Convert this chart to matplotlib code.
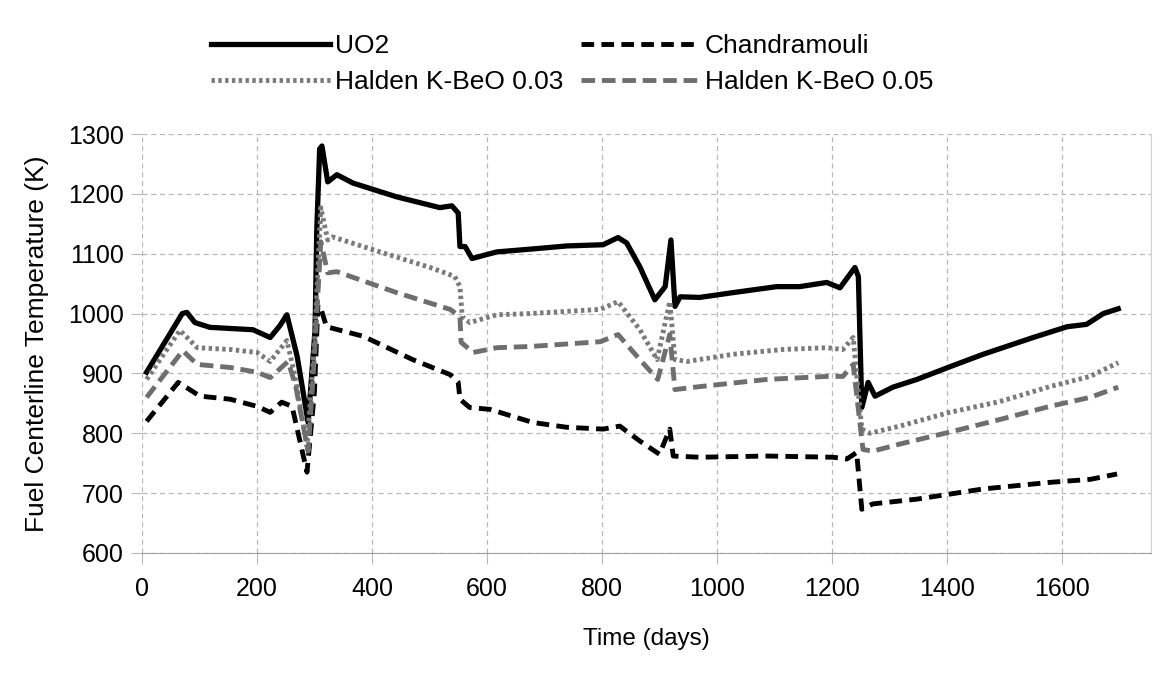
import matplotlib
matplotlib.use('Agg')
from matplotlib import pyplot as plt

plt.rcParams['font.family'] = ['Liberation Sans', 'DejaVu Sans']

# datos
dias_uo2 = [8, 70, 78, 92, 118, 193, 223, 240, 252, 270, 289, 301, 304, 309, 313, 323, 339, 367, 443, 518, 539, 550,
            553, 562, 574, 617, 680, 739, 802, 828, 843, 866, 892, 910, 920, 927, 936, 970, 1028, 1104,
            1144, 1191, 1214, 1240, 1246, 1252, 1263, 1275, 1306, 1348, 1402, 1463, 1550, 1609, 1643,
            1672, 1698]
temp_uo2 = [902, 1000, 1002, 985, 977, 973, 960, 980, 998, 928, 818, 973, 1140, 1275, 1280, 1220, 1232, 1218, 1195, 1177,
            1180, 1168, 1112, 1112, 1092, 1103, 1108, 1113, 1115, 1127, 1118, 1078, 1023, 1045, 1123, 1012,
            1028, 1027, 1035, 1045, 1045, 1052, 1043, 1077, 1062, 843, 885, 862, 877, 890, 910, 932, 960,
            978, 982, 1000, 1008]

dias_chandra = [8, 63, 83, 101, 153, 200, 223, 243, 261, 287, 300, 306, 310, 321, 385, 471, 536, 550, 553, 570,
                605, 680, 739, 802, 831, 866, 900, 918, 924, 970, 1087, 1202, 1226, 1243, 1252, 1271, 1348,
                1463, 1579, 1649, 1696]
temp_chandra = [820, 885, 873, 862, 857, 845, 835, 852, 845, 735, 870, 1015, 1012, 978, 962, 923, 898, 885, 857, 843,
                840, 818, 810, 807, 812, 787, 765, 807, 762, 760, 762, 760, 757, 768, 673, 682, 690, 707, 718,
                723, 732]

dias_h03 = [8, 66, 96, 153, 200, 223, 252, 265, 287, 300, 311, 323, 332, 414, 501, 544, 553, 557, 570, 617,
            675, 797, 828, 866, 896, 918, 927, 948, 1028, 1115, 1191, 1219, 1237, 1252, 1266, 1318, 1405,
            1492, 1579, 1649, 1698]
temp_h03 = [890, 972, 943, 940, 935, 920, 955, 900, 778, 950, 1177, 1123, 1128, 1103, 1077, 1062, 1045, 995,
            985, 998, 1000, 1007, 1020, 973, 923, 1020, 923, 920, 932, 940, 943, 940, 960, 807, 800, 812,
            835, 853, 878, 895, 918]

dias_h05 = [8, 71, 96, 153, 200, 223, 254, 267, 289, 300, 311, 323, 339, 443, 536, 553, 555, 576, 617, 675,
            797, 828, 866, 897, 918, 927, 970, 1087, 1191, 1219, 1237, 1254, 1271, 1318, 1405, 1492, 1579,
            1649, 1698]
temp_h05 = [860, 938, 915, 910, 902, 893, 920, 880, 770, 930, 1120, 1068, 1070, 1035, 1007, 995, 952, 935,
            943, 945, 953, 965, 923, 890, 965, 873, 878, 890, 895, 895, 915, 773, 770, 782, 802, 823, 845,
            860, 877]

fig = plt.figure(figsize=(11.63, 6.81), dpi=100)
ax = fig.add_axes([142/1163, 1 - 553/681, (1151-142)/1163, (553-134)/681])

l1, = ax.plot(dias_uo2, temp_uo2, color='black', lw=3.8, label='UO2', solid_joinstyle='round')
l2, = ax.plot(dias_chandra, temp_chandra, color='black', lw=3.5, dashes=(2.6, 1.5), label='Chandramouli')
l3, = ax.plot(dias_h03, temp_h03, color='#7a7a7a', lw=3.5, dashes=(0.7, 0.7), label='Halden K-BeO 0.03')
l4, = ax.plot(dias_h05, temp_h05, color='#6e6e6e', lw=3.5, dashes=(2.8, 1.4), label='Halden K-BeO 0.05')

ax.set_xlim(0, 1755)
ax.set_ylim(600, 1300)
ax.set_xticks(range(0, 1601, 200))
ax.set_yticks(range(600, 1301, 100))
ax.grid(True, color='#b8b8b8', linestyle=(0, (4, 3)), linewidth=0.9)
ax.set_axisbelow(True)

for lado in ['top', 'left']:
    ax.spines[lado].set_visible(False)
ax.spines['bottom'].set_color('#a0a0a0')
ax.spines['right'].set_color('#d0d0d0')
ax.tick_params(axis='both', labelsize=18, length=8, color='#b8b8b8')
ax.tick_params(axis='x', pad=9)
ax.tick_params(axis='y', pad=5)

ax.set_xlabel('Time (days)', fontsize=17.5, labelpad=20)
ax.set_ylabel('Fuel Centerline Temperature (K)', fontsize=19, labelpad=14)

# orden por filas: UO2, Chandramouli / Halden 0.03, Halden 0.05
fig.legend([l1, l3, l2, l4], [l1.get_label(), l3.get_label(), l2.get_label(), l4.get_label()],
           loc='center', bbox_to_anchor=(572/1163, 1 - 64/681), ncol=2, frameon=False,
           fontsize=19, handlelength=4.5, handletextpad=0.2, columnspacing=0.65, labelspacing=0.45)

plt.savefig('out.png', dpi=100)
